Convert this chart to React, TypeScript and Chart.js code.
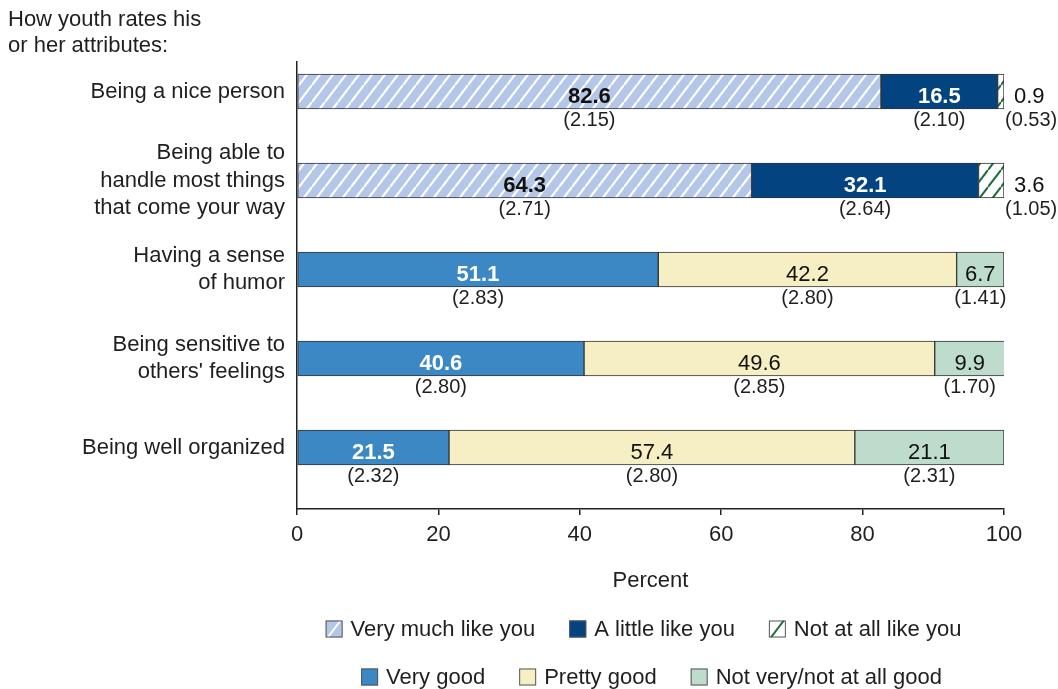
import React, { useEffect, useRef } from "react";
import { Chart, registerables } from "chart.js";

Chart.register(...registerables);

const FONT = "'Liberation Sans', Arial, Helvetica, sans-serif";
const INK = "#1f1f1f";

// ---------- data ----------
const titleLines = ["How youth rates his", "or her attributes:"];
const categories: string[][] = [
  ["Being a nice person"],
  ["Being able to", "handle most things", "that come your way"],
  ["Having a sense", "of humor"],
  ["Being sensitive to", "others' feelings"],
  ["Being well organized"],
];
const xTicks = [0, 20, 40, 60, 80, 100];
const xTitle = "Percent";

// rows 0-1: "like you" scale
const selfRows = [0, 1];
const veryMuch = [82.6, 64.3];
const veryMuchSE = [2.15, 2.71];
const aLittle = [16.5, 32.1];
const aLittleSE = [2.1, 2.64];
const notAtAll = [0.9, 3.6];
const notAtAllSE = [0.53, 1.05];

// rows 2-4: "good" scale
const ratingRows = [2, 3, 4];
const veryGood = [51.1, 40.6, 21.5];
const veryGoodSE = [2.83, 2.8, 2.32];
const prettyGood = [42.2, 49.6, 57.4];
const prettyGoodSE = [2.8, 2.85, 2.8];
const notVeryGood = [6.7, 9.9, 21.1];
const notVeryGoodSE = [1.41, 1.7, 2.31];

const legendRow1 = ["Very much like you", "A little like you", "Not at all like you"];
const legendRow2 = ["Very good", "Pretty good", "Not very/not at all good"];

// ---------- styling ----------
const LIGHT_BLUE = "#b4c7e8";
const NAVY = "#03437f";
const GREEN_STRIPE = "#1d6b38";
const MID_BLUE = "#3b88c4";
const YELLOW = "#f6efc4";
const PALE_GREEN = "#bddccc";

function makeHatch(bg: string, stripe: string, lw: number): any {
  const w = 13;
  const h = 17;
  const c = document.createElement("canvas");
  c.width = w;
  c.height = h;
  const g = c.getContext("2d");
  if (!g) return bg;
  g.fillStyle = bg;
  g.fillRect(0, 0, w, h);
  g.strokeStyle = stripe;
  g.lineWidth = lw;
  for (const n of [0, 1, 2]) {
    g.beginPath();
    g.moveTo(0, n * h);
    g.lineTo(w, (n - 1) * h);
    g.stroke();
  }
  return g.createPattern(c, "repeat") || bg;
}

type Swatch = { bg: string; stripe?: string };

export default function App() {
  const ref = useRef<HTMLCanvasElement | null>(null);

  useEffect(() => {
    if (!ref.current) return;
    const hatchBlue = makeHatch(LIGHT_BLUE, "#ffffff", 2.2);
    const hatchGreen = makeHatch("#ffffff", GREEN_STRIPE, 2);

    const series = [
      { label: legendRow1[0], values: veryMuch, se: veryMuchSE, rows: selfRows, fill: hatchBlue, sw: { bg: LIGHT_BLUE, stripe: "#ffffff" }, st: { color: "#111", bold: true, outside: false } },
      { label: legendRow1[1], values: aLittle, se: aLittleSE, rows: selfRows, fill: NAVY, sw: { bg: NAVY }, st: { color: "#ffffff", bold: true, outside: false } },
      { label: legendRow1[2], values: notAtAll, se: notAtAllSE, rows: selfRows, fill: hatchGreen, sw: { bg: "#ffffff", stripe: GREEN_STRIPE }, st: { color: "#111", bold: false, outside: true } },
      { label: legendRow2[0], values: veryGood, se: veryGoodSE, rows: ratingRows, fill: MID_BLUE, sw: { bg: MID_BLUE }, st: { color: "#ffffff", bold: true, outside: false } },
      { label: legendRow2[1], values: prettyGood, se: prettyGoodSE, rows: ratingRows, fill: YELLOW, sw: { bg: YELLOW }, st: { color: "#111", bold: false, outside: false } },
      { label: legendRow2[2], values: notVeryGood, se: notVeryGoodSE, rows: ratingRows, fill: PALE_GREEN, sw: { bg: PALE_GREEN }, st: { color: "#111", bold: false, outside: false } },
    ];

    const datasets: any[] = series.map((s) => ({
      label: s.label,
      data: s.values.map((v, k) => ({ x: v, y: s.rows[k] })),
      backgroundColor: s.fill,
      borderColor: "#333333",
      borderWidth: 1,
      borderSkipped: false,
      barThickness: 35,
      values: s.values,
      se: s.se,
      labelStyle: s.st,
    }));

    const drawSwatch = (ctx: CanvasRenderingContext2D, x: number, y: number, s: number, sw: Swatch) => {
      ctx.save();
      ctx.fillStyle = sw.bg;
      ctx.fillRect(x, y, s, s);
      if (sw.stripe) {
        ctx.beginPath();
        ctx.rect(x, y, s, s);
        ctx.clip();
        ctx.strokeStyle = sw.stripe;
        ctx.lineWidth = 2;
        ctx.beginPath();
        ctx.moveTo(x + 2, y + s);
        ctx.lineTo(x + s - 2, y);
        ctx.stroke();
      }
      ctx.restore();
      ctx.save();
      ctx.strokeStyle = "#555555";
      ctx.lineWidth = 1;
      ctx.strokeRect(x + 0.5, y + 0.5, s - 1, s - 1);
      ctx.restore();
    };

    const annotate = {
      id: "annotate",
      afterDatasetsDraw(chart: any) {
        const ctx: CanvasRenderingContext2D = chart.ctx;
        ctx.save();
        ctx.textBaseline = "middle";
        chart.data.datasets.forEach((ds: any, i: number) => {
          const meta = chart.getDatasetMeta(i);
          const st = ds.labelStyle;
          meta.data.forEach((el: any, k: number) => {
            const p = el.getProps(["x", "base", "y"], true);
            const left = Math.min(p.x, p.base);
            const right = Math.max(p.x, p.base);
            const cx = (left + right) / 2;
            const valTxt = ds.values[k].toFixed(1);
            const seTxt = "(" + ds.se[k].toFixed(2) + ")";
            ctx.fillStyle = st.color;
            ctx.font = (st.bold ? "bold " : "") + "22px " + FONT;
            if (st.outside) {
              ctx.textAlign = "left";
              ctx.fillText(valTxt, right + 10, p.y + 5);
              ctx.fillStyle = INK;
              ctx.font = "20px " + FONT;
              ctx.fillText(seTxt, right + 1, p.y + 29);
            } else {
              ctx.textAlign = "center";
              ctx.fillText(valTxt, cx, p.y + 5);
              ctx.fillStyle = INK;
              ctx.font = "20px " + FONT;
              ctx.fillText(seTxt, cx, p.y + 29);
            }
          });
        });
        ctx.restore();
      },
      afterDraw(chart: any) {
        const ctx: CanvasRenderingContext2D = chart.ctx;
        const area = chart.chartArea;
        ctx.save();
        // header
        ctx.fillStyle = INK;
        ctx.font = "22px " + FONT;
        ctx.textBaseline = "middle";
        ctx.textAlign = "left";
        titleLines.forEach((t, i) => ctx.fillText(t, 8, 20 + i * 26));

        // legend
        const box = 17;
        const gapText = 8;
        const gapItem = 34;
        const centers = [(area.left + area.right) / 2 - 7, (area.left + area.right) / 2 + 1];
        const rows = [
          { items: series.slice(0, 3), y: 629 },
          { items: series.slice(3, 6), y: 677 },
        ];
        rows.forEach((row, r) => {
          ctx.font = "22px " + FONT;
          const widths = row.items.map((s) => ctx.measureText(s.label).width);
          const total = widths.reduce((a, w) => a + box + gapText + w, 0) + gapItem * (row.items.length - 1);
          let x = centers[r] - total / 2;
          row.items.forEach((s, i) => {
            drawSwatch(ctx, x, row.y - box / 2, box, s.sw);
            ctx.fillStyle = INK;
            ctx.font = "22px " + FONT;
            ctx.textAlign = "left";
            ctx.textBaseline = "middle";
            ctx.fillText(s.label, x + box + gapText, row.y + 1);
            x += box + gapText + widths[i] + gapItem;
          });
        });
        ctx.restore();
      },
    };

    Chart.defaults.font.family = FONT;

    const chart = new Chart(ref.current, {
      type: "bar",
      data: { datasets },
      options: {
        indexAxis: "y",
        animation: false,
        responsive: true,
        maintainAspectRatio: false,
        devicePixelRatio: 1,
        layout: { padding: { top: 62, right: 54, bottom: 90, left: 0 } },
        plugins: {
          legend: { display: false },
          tooltip: { enabled: false },
        },
        scales: {
          x: {
            type: "linear",
            stacked: true,
            min: 0,
            max: 100,
            afterBuildTicks: (s: any) => {
              s.ticks = xTicks.map((v) => ({ value: v }));
            },
            ticks: { color: INK, font: { size: 22 }, padding: 7, maxRotation: 0 },
            grid: { drawOnChartArea: false, drawTicks: true, tickLength: 6, color: "#222222", lineWidth: 1.5 },
            border: { display: true, color: "#222222", width: 1.5 },
            title: { display: true, text: xTitle, color: INK, font: { size: 22 }, padding: { top: 0, bottom: 5 } },
            afterFit: (s: any) => {
              s.height = 90;
            },
          },
          y: {
            type: "linear",
            stacked: true,
            reverse: true,
            offset: false,
            bounds: "data",
            min: -0.331,
            max: 4.691,
            afterBuildTicks: (s: any) => {
              s.ticks = categories.map((_, i) => ({ value: i }));
            },
            ticks: {
              color: INK,
              font: { size: 22, lineHeight: 1.23 },
              padding: 12,
              autoSkip: false,
              callback: (v: any) => categories[v as number] ?? "",
            },
            grid: { display: false, drawTicks: false, offset: false },
            border: { display: true, color: "#222222", width: 1.5 },
            afterFit: (s: any) => {
              s.width = 297;
            },
          },
        },
      } as any,
      plugins: [annotate],
    });

    return () => chart.destroy();
  }, []);

  return (
    <div style={{ position: "fixed", left: 0, top: 0, width: 1058, height: 689, background: "#ffffff" }}>
      <canvas ref={ref} />
    </div>
  );
}
